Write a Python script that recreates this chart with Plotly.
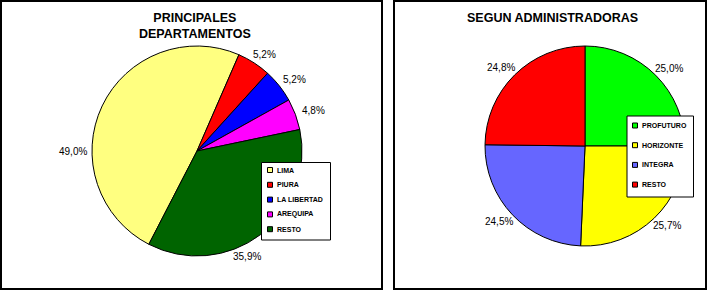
import math
import plotly.graph_objects as go

W, H = 708, 291

dept_labels = ["LIMA", "PIURA", "LA LIBERTAD", "AREQUIPA", "RESTO"]
dept_values = [49.0, 5.2, 5.2, 4.8, 35.9]
dept_colors = ["#FFFF80", "#FF0000", "#0000FF", "#FF00FF", "#006400"]

adm_labels = ["PROFUTURO", "HORIZONTE", "INTEGRA", "RESTO"]
adm_values = [25.0, 25.7, 24.5, 24.8]
adm_colors = ["#00FF00", "#FFFF00", "#6666FF", "#FF0000"]

FONT = "Liberation Sans, Arial, sans-serif"


def px_x(v):
    return v / W


def px_y(v):
    return 1 - v / H


fig = go.Figure()
shapes = []
annotations = []


def add_pie(labels, values, colors, cx, cy, r, start_deg, angle_override=None):
    angle_override = angle_override or {}
    fig.add_trace(go.Pie(
        labels=labels, values=values, sort=False,
        direction="clockwise", rotation=((start_deg + 180) % 360) - 180,
        marker=dict(colors=colors, line=dict(color="black", width=1)),
        textinfo="none", showlegend=False, hoverinfo="label+percent",
        domain=dict(x=[px_x(cx - r), px_x(cx + r)], y=[px_y(cy + r), px_y(cy - r)]),
    ))
    # percentage labels placed just outside each slice (Excel "outside end" style)
    total = sum(values)
    acc = 0.0
    for lab, v in zip(labels, values):
        mid = start_deg + (acc + v / 2) / total * 360
        acc += v
        ang = math.radians(angle_override.get(lab, mid))
        ux, uy = math.sin(ang), -math.cos(ang)
        tx = cx + ux * (r + 4) + 15 * ux
        ty = cy + uy * (r + 4) + 6 * uy
        annotations.append(dict(
            text=("%.1f%%" % v).replace(".", ","), xref="paper", yref="paper",
            x=px_x(tx), y=px_y(ty), xanchor="center", yanchor="middle",
            showarrow=False, font=dict(family=FONT, size=10, color="black")))


def add_legend(labels, colors, left, top, right, bottom, first_y, step, sw_x):
    shapes.append(dict(type="rect", xref="paper", yref="paper",
                       x0=px_x(left), x1=px_x(right), y0=px_y(bottom), y1=px_y(top),
                       line=dict(color="black", width=1), fillcolor="white", layer="above"))
    for i, (lab, col) in enumerate(zip(labels, colors)):
        yc = first_y + i * step
        shapes.append(dict(type="rect", xref="paper", yref="paper",
                           x0=px_x(sw_x), x1=px_x(sw_x + 5), y0=px_y(yc + 2.5), y1=px_y(yc - 2.5),
                           line=dict(color="black", width=1), fillcolor=col, layer="above"))
        annotations.append(dict(
            text=lab, xref="paper", yref="paper", x=px_x(sw_x + 7), y=px_y(yc),
            xanchor="left", yanchor="middle", showarrow=False,
            font=dict(family=FONT, size=7, color="black", weight="bold")))


# Left chart: principales departamentos
add_pie(dept_labels, dept_values, dept_colors, 197, 151, 105, 207.3,
        angle_override={"LIMA": 270, "RESTO": 156})
add_legend(dept_labels, dept_colors, 261.5, 162.5, 330.5, 240, 170, 14.8, 267.5)

# Right chart: segun administradoras
add_pie(adm_labels, adm_values, adm_colors, 585, 146, 100, 0)
add_legend(adm_labels, adm_colors, 627, 116, 693.5, 197, 125.5, 19.7, 632.5)

# Panel frames
shapes.insert(0, dict(type="rect", xref="paper", yref="paper",
                      x0=px_x(1), x1=px_x(382), y0=px_y(289), y1=px_y(1),
                      line=dict(color="black", width=2), layer="below"))
shapes.insert(0, dict(type="rect", xref="paper", yref="paper",
                      x0=px_x(394), x1=px_x(706), y0=px_y(289), y1=px_y(1),
                      line=dict(color="black", width=2), layer="below"))

annotations.append(dict(text="<b>PRINCIPALES<br>DEPARTAMENTOS</b>", xref="paper", yref="paper",
                        x=px_x(195), y=px_y(9), xanchor="center", yanchor="top", showarrow=False,
                        font=dict(family=FONT, size=12.5, color="black")))
annotations.append(dict(text="<b>SEGUN ADMINISTRADORAS</b>", xref="paper", yref="paper",
                        x=px_x(552), y=px_y(9), xanchor="center", yanchor="top", showarrow=False,
                        font=dict(family=FONT, size=12.5, color="black")))

fig.update_layout(
    width=W, height=H,
    margin=dict(l=0, r=0, t=0, b=0),
    paper_bgcolor="white",
    showlegend=False,
    shapes=shapes,
    annotations=annotations,
)

fig.write_html("out.html")
